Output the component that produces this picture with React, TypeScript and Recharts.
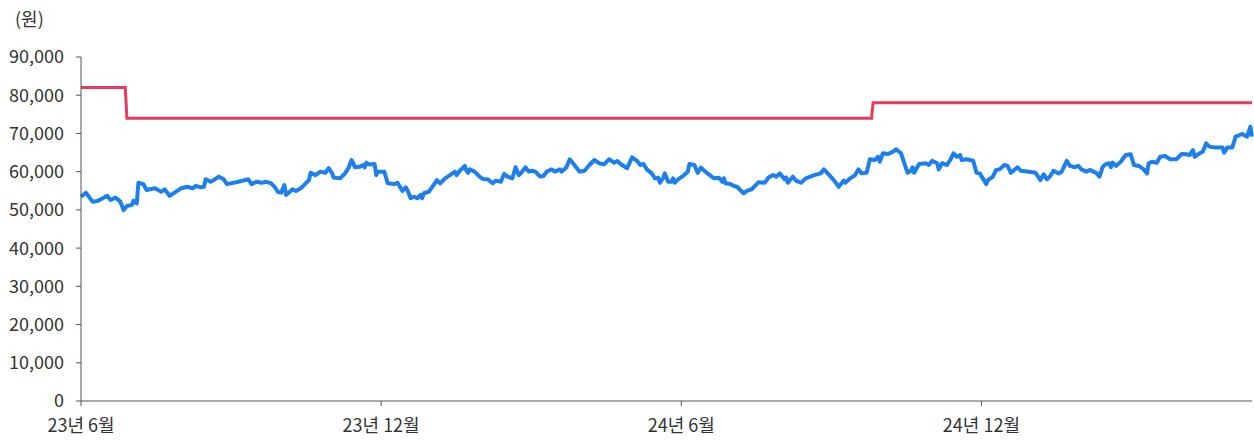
import React from "react";
import { LineChart, Line, XAxis, YAxis } from "recharts";

// days counted from 2023-06-01
const priceDays = [
  0, 3, 7, 10, 13, 16, 18, 21, 24, 26, 28, 31, 32, 34, 35, 38, 40, 45, 49, 51,
  54, 57, 61, 65, 68, 70, 73, 75, 76, 79, 81, 84, 87, 89, 96, 102, 104, 107, 110, 113,
  116, 118, 120, 122, 124, 125, 129, 131, 134, 137, 139, 140, 143, 146, 149, 151, 153, 154, 158, 161,
  163, 165, 166, 167, 170, 172, 173, 174, 176, 179, 180, 181, 185, 187, 191, 193, 195, 196, 198, 199,
  201, 203, 205, 207, 208, 209, 212, 215, 217, 219, 222, 225, 228, 229, 231, 234, 235, 236, 237, 240,
  243, 245, 248, 251, 253, 256, 258, 260, 263, 265, 267, 269, 271, 273, 275, 277, 280, 282, 284, 287,
  289, 292, 293, 296, 298, 300, 304, 307, 310, 313, 316, 319, 322, 325, 327, 329, 333, 336, 339, 341,
  343, 345, 348, 350, 352, 353, 355, 356, 358, 360, 361, 362, 364, 367, 370, 371, 374, 376, 378, 382,
  386, 389, 391, 392, 393, 396, 398, 400, 404, 406, 409, 413, 417, 419, 422, 424, 426, 429, 430, 431,
  434, 436, 439, 442, 447, 451, 453, 455, 459, 462, 465, 466, 469, 472, 474, 476, 479, 481, 484, 486,
  487, 489, 492, 495, 497, 500, 504, 506, 507, 508, 511, 515, 517, 519, 522, 523, 525, 528, 530, 532,
  534, 536, 537, 540, 544, 546, 548, 552, 553, 556, 558, 560, 563, 565, 567, 569, 571, 573, 578, 582,
  585, 587, 589, 591, 593, 596, 598, 601, 603, 606, 608, 610, 613, 615, 619, 621, 623, 625, 627, 628,
  629, 631, 634, 637, 640, 642, 645, 648, 650, 651, 653, 656, 658, 661, 664, 668, 671, 674, 676, 678,
  679, 682, 684, 686, 688, 691, 694, 696, 697, 699, 702, 704, 708, 711, 713, 714,
];

const priceValues = [
  53450, 54500, 52150, 52300, 53000, 53700, 52600, 53200, 52150, 49950, 51000, 51300, 52400, 51700, 57100, 56750, 55200, 55650, 54750, 55400,
  53700, 54500, 55650, 56050, 55650, 56250, 55900, 56050, 58000, 57350, 57800, 58700, 58000, 56750, 57350, 58000, 56750, 57350, 57100, 57350,
  56950, 56050, 54750, 54500, 56500, 53900, 55400, 54950, 55650, 56950, 57800, 59700, 59100, 60000, 59700, 60900, 59700, 58500, 58250, 59550,
  60900, 63050, 62200, 61150, 61300, 61750, 61150, 62350, 61900, 62000, 59100, 60000, 60000, 56950, 56750, 57100, 55650, 54950, 55900, 55200,
  53050, 53450, 53050, 53900, 53050, 54350, 54750, 56500, 57800, 56950, 58250, 59100, 60000, 59100, 60250, 61500, 60250, 59700, 60600, 60000,
  58700, 58100, 58000, 56950, 57650, 57350, 59400, 58700, 58250, 61150, 59100, 60000, 61150, 60000, 60250, 60000, 58700, 58850, 60000, 60600,
  60000, 60600, 60000, 61150, 63250, 62200, 60000, 60250, 61750, 63050, 62200, 61900, 63250, 62350, 62800, 62000, 60900, 63750, 62850, 61750,
  62000, 60600, 59550, 58250, 58400, 57100, 58400, 59550, 57350, 57350, 58250, 57100, 58000, 58850, 60000, 62000, 61750, 59700, 61050, 59550,
  58250, 58400, 57350, 58250, 56950, 56750, 56250, 56050, 54350, 54950, 55400, 57200, 57100, 58400, 59100, 58700, 59550, 58000, 58500, 57100,
  58700, 57650, 57100, 58250, 59100, 59550, 60600, 59700, 57800, 56050, 57650, 57100, 58250, 59100, 60600, 59550, 59700, 63250, 63050, 63900,
  62600, 64800, 64600, 65200, 65850, 64800, 59700, 60250, 61150, 59700, 62000, 62200, 61750, 62850, 62200, 60600, 62200, 61750, 63050, 64800,
  63900, 64350, 63050, 63250, 62850, 59700, 59550, 56750, 57800, 58700, 60450, 60600, 61750, 61500, 59700, 60450, 61150, 60250, 60000, 59700,
  57800, 59300, 58000, 58850, 60250, 59550, 60000, 62850, 61500, 61150, 61550, 60600, 60000, 60450, 59700, 58700, 61300, 62000, 62200, 61150,
  62350, 61500, 62600, 64350, 64550, 61750, 61500, 60600, 59550, 62200, 62600, 62350, 63900, 64100, 63250, 63250, 64600, 64550, 64350, 65650,
  63900, 64800, 65200, 67400, 66550, 66350, 66300, 66350, 64950, 66350, 66350, 69150, 69850, 69150, 71750, 69150,
];

const targetDays = [0, 27, 28, 482, 483, 714];
const targetValues = [82000, 82000, 74000, 74000, 78000, 78000];

const tickDays = [0, 183, 366, 549];
const tickLabels = ["23년 6월", "23년 12월", "24년 6월", "24년 12월"];
const yTicks = [0, 10000, 20000, 30000, 40000, 50000, 60000, 70000, 80000, 90000];

const priceData = priceDays.map((d, i) => ({ day: d, price: priceValues[i] }));
const targetData = targetDays.map((d, i) => ({ day: d, target: targetValues[i] }));

const FONT = "'Noto Sans CJK KR', 'Noto Sans', sans-serif";
const TEXT = "#333333";
const AXIS = "#555555";

export default function App() {
  return (
    <div style={{ position: "absolute", left: 0, top: 0, width: 1254, height: 444, background: "#fff", fontFamily: FONT }}>
      <div style={{ position: "absolute", left: 15, top: 6, fontSize: 18, color: TEXT, lineHeight: "24px" }}>(원)</div>
      <LineChart width={1254} height={444} margin={{ top: 57, right: 2, bottom: 0, left: 0 }} style={{ fontSize: 18 }}>
        <XAxis
          dataKey="day"
          type="number"
          domain={[0, 714]}
          ticks={tickDays}
          tickFormatter={(v) => tickLabels[tickDays.indexOf(v)] ?? ""}
          height={43}
          tickSize={5}
          tickMargin={13}
          stroke={AXIS}
          fontSize={18}
          tick={{ fill: TEXT, fontSize: 18, fontFamily: FONT }}
        />
        <YAxis
          type="number"
          domain={[0, 90000]}
          ticks={yTicks}
          width={81}
          tickSize={5}
          tickMargin={12}
          stroke={AXIS}
          fontSize={18}
          tickFormatter={(v) => v.toLocaleString("en-US")}
          tick={{ fill: TEXT, fontSize: 18, fontFamily: FONT }}
        />
        <Line
          data={targetData}
          dataKey="target"
          type="linear"
          stroke="#E9395F"
          strokeWidth={3}
          dot={false}
          isAnimationActive={false}
        />
        <Line
          data={priceData}
          dataKey="price"
          type="linear"
          stroke="#1C7FF0"
          strokeWidth={4}
          strokeLinejoin="round"
          dot={false}
          isAnimationActive={false}
        />
      </LineChart>
    </div>
  );
}
